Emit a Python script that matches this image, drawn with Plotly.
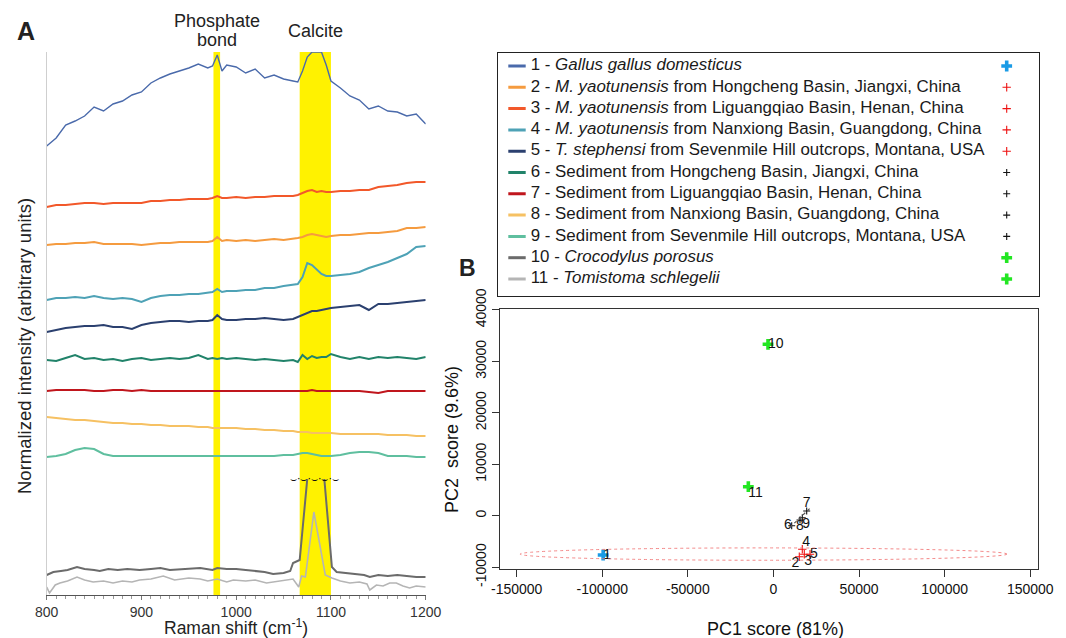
import plotly.graph_objects as go

FONT = "Liberation Sans, Arial, sans-serif"
W, H = 1066, 638

# ---------------- Panel A data (Raman spectra, stacked, arbitrary units) ----------------
RAMAN = [800, 810, 820, 830, 840, 850, 860, 870, 880, 890,
         900, 910, 920, 930, 940, 950, 960, 970, 975, 980,
         985, 990, 1000, 1010, 1020, 1030, 1040, 1050, 1060, 1065,
         1070, 1075, 1080, 1085, 1090, 1095, 1100, 1110, 1120, 1130,
         1140, 1150, 1160, 1170, 1180, 1190, 1200]

gallus = [449, 457, 470, 474, 479, 488, 484, 491, 494, 500,
          503, 512, 517, 521, 524, 527, 531, 527, 529, 540,
          524, 530, 528, 522, 526, 517, 520, 516, 514, 513,
          524, 538, 543, 543, 543, 530, 514, 507, 499, 495,
          486, 489, 484, 483, 479, 481, 471]
myao_hongcheng = [350, 351, 351, 352, 352, 353, 351, 351, 351, 351,
                  350, 351, 352, 352, 353, 353, 353, 353, 354, 358,
                  354, 355, 354, 355, 354, 355, 356, 355, 356, 357,
                  358, 360, 361, 360, 359, 358, 359, 360, 360, 361,
                  362, 362, 363, 364, 367, 367, 368]
myao_liguangqiao = [388, 390, 390, 391, 392, 392, 391, 392, 392, 392,
                    392, 394, 394, 395, 395, 396, 396, 396, 397, 399,
                    397, 397, 398, 397, 398, 398, 399, 399, 399, 400,
                    402, 404, 405, 403, 404, 403, 403, 404, 404, 405,
                    405, 408, 409, 410, 412, 413, 413]
myao_nanxiong = [295, 297, 297, 298, 297, 299, 297, 296, 297, 296,
                 293, 297, 299, 300, 300, 301, 301, 302, 303, 306,
                 303, 304, 304, 305, 305, 307, 307, 309, 310, 311,
                 318, 332, 330, 325, 321, 319, 319, 320, 321, 323,
                 327, 330, 333, 337, 341, 348, 349]
tstephensi = [263, 265, 267, 268, 269, 269, 270, 268, 268, 266,
              270, 272, 273, 274, 274, 273, 274, 274, 275, 280,
              276, 275, 275, 276, 276, 277, 276, 275, 276, 278,
              280, 282, 284, 284, 285, 286, 287, 288, 289, 290,
              285, 291, 291, 292, 293, 294, 295]
sed_hongcheng = [235, 234, 237, 240, 236, 237, 235, 236, 234, 236,
                 237, 235, 236, 237, 236, 237, 240, 236, 237, 236,
                 237, 236, 237, 236, 235, 236, 235, 234, 235, 233,
                 240, 236, 239, 237, 238, 238, 241, 238, 236, 238,
                 236, 238, 237, 238, 237, 236, 238]
sed_liguangqiao = [204, 205, 205, 205, 205, 204, 204, 205, 205, 204,
                   205, 204, 204, 204, 204, 204, 204, 204, 204, 204,
                   204, 204, 204, 204, 204, 204, 204, 204, 204, 204,
                   204, 204, 205, 204, 204, 204, 204, 204, 204, 204,
                   203, 202, 204, 204, 204, 204, 204]
sed_nanxiong = [178, 177, 176, 175, 175, 174, 173, 172, 172, 171,
                171, 170, 170, 169, 169, 169, 168, 168, 167, 167,
                167, 167, 167, 166, 166, 165, 165, 164, 164, 163,
                163, 163, 162, 162, 162, 162, 162, 161, 161, 161,
                161, 161, 160, 160, 160, 159, 159]
sed_sevenmile = [138, 139, 141, 145, 147, 146, 141, 139, 139, 139,
                 139, 139, 139, 139, 139, 139, 139, 139, 139, 139,
                 139, 139, 139, 139, 139, 139, 139, 140, 140, 141,
                 142, 142, 141, 140, 139, 139, 139, 140, 142, 143,
                 143, 142, 139, 139, 139, 138, 138]

croc_x = [800, 807, 815, 822, 832, 840, 850, 856, 865, 875,
          885, 898, 910, 920, 930, 945, 962, 975, 980, 990,
          1000, 1010, 1020, 1030, 1039, 1050, 1057, 1060, 1067, 1075,
          1084, 1093, 1101, 1106, 1115, 1125, 1135, 1141, 1150, 1160,
          1170, 1180, 1190, 1200]
croc_y = [20, 23, 24, 25, 28, 26, 25, 24, 26, 25,
          26, 25, 26, 27, 25, 26, 27, 25, 27, 26,
          26, 25, 24, 23, 21, 22, 24, 32, 35, 116,
          None, 116, 28, 23, 22, 21, 20, 18, 20, 19,
          20, 19, 18, 18]
tomi_x = [800, 803, 809, 814, 822, 832, 840, 849, 860, 870,
          880, 890, 898, 910, 923, 935, 950, 962, 970, 980,
          990, 997, 1010, 1020, 1032, 1045, 1060, 1066, 1069, 1073,
          1082, 1094, 1101, 1110, 1120, 1130, 1138, 1141, 1148, 1155,
          1162, 1169, 1176, 1183, 1190, 1200]
tomi_y = [8, 2, 10, 12, 14, 18, 15, 13, 14, 12,
          14, 13, 15, 16, 19, 15, 17, 16, 14, 16,
          13, 15, 14, 15, 12, 14, 16, 8, 19, 18,
          83, 20, 17, 14, 12, 13, 11, 5, 10, 9,
          12, 12, 9, 7, 9, 8]

band_x0 = [976, 1067]
band_x1 = [983, 1100]
band_label_lines = [["Phosphate", "bond"], ["Calcite"]]
break_level = 116.5
x_ticks = [800, 900, 1000, 1100, 1200]

# ---------------- Legend / sample names ----------------
sample_names = [
    "1 - <i>Gallus gallus domesticus</i>",
    "2 - <i>M. yaotunensis</i> from Hongcheng Basin, Jiangxi, China",
    "3 - <i>M. yaotunensis</i> from Liguangqiao Basin, Henan, China",
    "4 - <i>M. yaotunensis</i> from Nanxiong Basin, Guangdong, China",
    "5 - <i>T. stephensi</i> from Sevenmile Hill outcrops, Montana, USA",
    "6 - Sediment from Hongcheng Basin, Jiangxi, China",
    "7 - Sediment from Liguangqiao Basin, Henan, China",
    "8 - Sediment from Nanxiong Basin, Guangdong, China",
    "9 - Sediment from Sevenmile Hill outcrops, Montana, USA",
    "10 - <i>Crocodylus porosus</i>",
    "11 - <i>Tomistoma schlegelii</i>",
]
sample_colors = ["#4a6aab", "#f59b3f", "#f2582a", "#4ea2b6", "#2b406f", "#21836a",
                 "#c0161d", "#f6c163", "#5fbf9f", "#6b6b6b", "#b5b5b5"]
sample_groups = ["bird", "egg", "egg", "egg", "egg", "sed", "sed", "sed", "sed", "croc", "croc"]

# ---------------- Panel B data (PCA scores) ----------------
pc_labels = ["1", "2", "3", "4", "5", "6", "7", "8", "9", "10", "11"]
pc1 = [-99500, 15070, 17990, 16820, 21320, 10630, 19390, 15480, 16820, -3200, -14700]
pc2 = [-7630, -7960, -7490, -6520, -7490, -1930, 925, -820, -380, 33330, 5650]
egg_ellipse_x = [-148000, 136400]
egg_ellipse_y = [-8650, -6250]
sed_ellipse_x = [9650, 21320]
sed_ellipse_y = [-2240, 1450]
pc_x_ticks = [-150000, -100000, -50000, 0, 50000, 100000, 150000]
pc_x_ticktext = ["-150000", "-100000", "-50000", "0", "50000", "100000", "150000"]
pc_y_ticks = [-10000, 0, 10000, 20000, 30000, 40000]
pc_y_ticktext = ["-10000", "0", "10000", "20000", "30000", "40000"]

# ---------------- helpers ----------------
def fx(p):
    return p / W

def fy(p):
    return 1 - p / H

group_marker = {
    "bird": dict(symbol="cross", size=9, color="#1a9be6"),
    "egg": dict(symbol="cross-thin", size=6, line=dict(width=1.1, color="#ee1111"), color="#ee1111"),
    "sed": dict(symbol="cross-thin", size=5, line=dict(width=1.1, color="#111111"), color="#111111"),
    "croc": dict(symbol="cross", size=9, color="#22e622"),
}

fig = go.Figure()

# Panel A spectra
spectra = [gallus, myao_hongcheng, myao_liguangqiao, myao_nanxiong, tstephensi,
           sed_hongcheng, sed_liguangqiao, sed_nanxiong, sed_sevenmile]
for i, ys in enumerate(spectra):
    fig.add_trace(go.Scatter(x=RAMAN, y=ys, mode="lines",
                             line=dict(color=sample_colors[i], width=1.4 if i == 0 else 2),
                             xaxis="x", yaxis="y", showlegend=False, hoverinfo="skip"))
fig.add_trace(go.Scatter(x=croc_x, y=croc_y, mode="lines", connectgaps=False,
                         line=dict(color=sample_colors[9], width=2),
                         xaxis="x", yaxis="y", showlegend=False, hoverinfo="skip"))
fig.add_trace(go.Scatter(x=tomi_x, y=tomi_y, mode="lines",
                         line=dict(color=sample_colors[10], width=1.6),
                         xaxis="x", yaxis="y", showlegend=False, hoverinfo="skip"))

shapes = []
for x0, x1 in zip(band_x0, band_x1):
    shapes.append(dict(type="rect", xref="x", yref="y domain", x0=x0, x1=x1, y0=0, y1=1,
                       fillcolor="#fff200", line=dict(width=0), layer="below"))

# Panel B PCA
for g in ["bird", "egg", "sed", "croc"]:
    idx = [i for i, gg in enumerate(sample_groups) if gg == g]
    fig.add_trace(go.Scatter(x=[pc1[i] for i in idx], y=[pc2[i] for i in idx],
                             mode="markers", marker=group_marker[g],
                             xaxis="x2", yaxis="y2", showlegend=False, hoverinfo="skip"))
label_pos = ["middle right", "bottom left", "bottom right", "top right", "middle right",
             "middle left", "top center", "bottom center", "bottom right", "middle right",
             "bottom right"]
fig.add_trace(go.Scatter(x=pc1, y=pc2, mode="text", text=pc_labels, textposition=label_pos,
                         textfont=dict(family=FONT, size=14, color="#111"),
                         xaxis="x2", yaxis="y2", showlegend=False, hoverinfo="skip"))
shapes.append(dict(type="circle", xref="x2", yref="y2",
                   x0=egg_ellipse_x[0], x1=egg_ellipse_x[1],
                   y0=egg_ellipse_y[0], y1=egg_ellipse_y[1],
                   line=dict(color="#f27a7a", width=0.9, dash="dot")))
shapes.append(dict(type="line", xref="x2", yref="y2",
                   x0=sed_ellipse_x[0], x1=sed_ellipse_x[1],
                   y0=sed_ellipse_y[0], y1=sed_ellipse_y[1],
                   line=dict(color="#555", width=1.2, dash="dot")))

# Legend panel (own axes, coordinates in px inside the box)
row0, row_step = 13.3, 21.3
rows = [row0 + row_step * i for i in range(len(sample_names))]
for i, r in enumerate(rows):
    fig.add_trace(go.Scatter(x=[10.6, 28], y=[r, r], mode="lines",
                             line=dict(color=sample_colors[i], width=3),
                             xaxis="x3", yaxis="y3", showlegend=False, hoverinfo="skip"))
fig.add_trace(go.Scatter(x=[33] * len(rows), y=rows, mode="text", text=sample_names,
                         textposition="middle right",
                         textfont=dict(family=FONT, size=16.9, color="#1a1a1a"),
                         xaxis="x3", yaxis="y3", showlegend=False, hoverinfo="skip"))
for g in ["bird", "egg", "sed", "croc"]:
    idx = [i for i, gg in enumerate(sample_groups) if gg == g]
    fig.add_trace(go.Scatter(x=[509] * len(idx), y=[rows[i] for i in idx], mode="markers",
                             marker=group_marker[g], xaxis="x3", yaxis="y3",
                             showlegend=False, hoverinfo="skip"))


def ann(text, x, y, size, xref="paper", yref="paper", angle=0, family=FONT, color="#222"):
    return dict(text=text, x=x, y=y, xref=xref, yref=yref, xanchor="center", yanchor="middle",
                textangle=angle, showarrow=False, font=dict(family=family, size=size, color=color))


annotations = [
    ann("<b>A</b>", fx(26), fy(31), 25),
    ann("<b>B</b>", fx(467), fy(268), 23),
    ann(band_label_lines[0][0], (band_x0[0] + band_x1[0]) / 2, fy(21), 18, xref="x"),
    ann(band_label_lines[0][1], (band_x0[0] + band_x1[0]) / 2, fy(40.5), 18, xref="x"),
    ann(band_label_lines[1][0], (band_x0[1] + band_x1[1]) / 2, fy(30.5), 18, xref="x"),
    ann("Normalized intensity (arbitrary units)", fx(24), fy(346), 18.5, angle=-90),
    ann("Raman shift (cm<sup>-1</sup>)", fx(236), fy(627), 17.5),
    ann("⌣·⌣·⌣·⌣·⌣", 1083, break_level, 11, xref="x", yref="y", family="DejaVu Sans",
        color="#111"),
    ann("PC1 score (81%)", fx(775), fy(629), 18, color="#111"),
    ann("PC2  score (9.6%)", fx(452), fy(440), 18, angle=-90, color="#111"),
]

fig.update_layout(
    template="none",
    width=W, height=H, margin=dict(l=0, r=0, t=0, b=0, pad=0, autoexpand=False),
    paper_bgcolor="white", plot_bgcolor="white",
    font=dict(family=FONT),
    showlegend=False,
    shapes=shapes, annotations=annotations,
    xaxis=dict(domain=[fx(46.7), fx(425.7)], range=[800, 1200], anchor="y", automargin=False,
               showgrid=False, zeroline=False, showline=True, linecolor="#555", linewidth=1,
               ticks="outside", ticklen=4, tickcolor="#777", tickvals=x_ticks,
               tickfont=dict(family=FONT, size=14, color="#333"),
               minor=dict(dtick=10, ticks="outside", ticklen=2.5, tickcolor="#999",
                          showgrid=False)),
    yaxis=dict(domain=[fy(595), fy(52)], range=[0, 543], anchor="x", automargin=False,
               showgrid=False, zeroline=False, showline=True, linecolor="#cfcfcf",
               showticklabels=False, ticks=""),
    xaxis2=dict(domain=[fx(500), fx(1038)], range=[-159750, 154500], anchor="y2",
                automargin=False,
                showgrid=False, zeroline=False, showline=True, mirror=True,
                linecolor="#333", linewidth=1, ticks="outside", ticklen=7, tickcolor="#333",
                tickvals=pc_x_ticks, ticktext=pc_x_ticktext,
                tickfont=dict(family=FONT, size=14, color="#111")),
    yaxis2=dict(domain=[fy(569.3), fy(309)], range=[-10410, 40190], anchor="x2",
                automargin=False,
                showgrid=False, zeroline=False, showline=True, mirror=True,
                linecolor="#333", linewidth=1, ticks="outside", ticklen=7, tickcolor="#333",
                tickvals=pc_y_ticks, ticktext=pc_y_ticktext, tickangle=-90,
                tickfont=dict(family=FONT, size=14, color="#111")),
    xaxis3=dict(domain=[fx(497.7), fx(1038.7)], range=[0, 541], anchor="y3", automargin=False,
                showgrid=False, zeroline=False, showline=True, mirror=True,
                linecolor="#222", linewidth=1.2, showticklabels=False, ticks=""),
    yaxis3=dict(domain=[fy(296), fy(52.7)], range=[243.3, 0], anchor="x3", automargin=False,
                showgrid=False, zeroline=False, showline=True, mirror=True,
                linecolor="#222", linewidth=1.2, showticklabels=False, ticks=""),
)

fig.write_html("out.html",
               config={"displayModeBar": False},
               post_script="document.body.style.margin='0px';"
                           "document.body.style.overflow='hidden';")
